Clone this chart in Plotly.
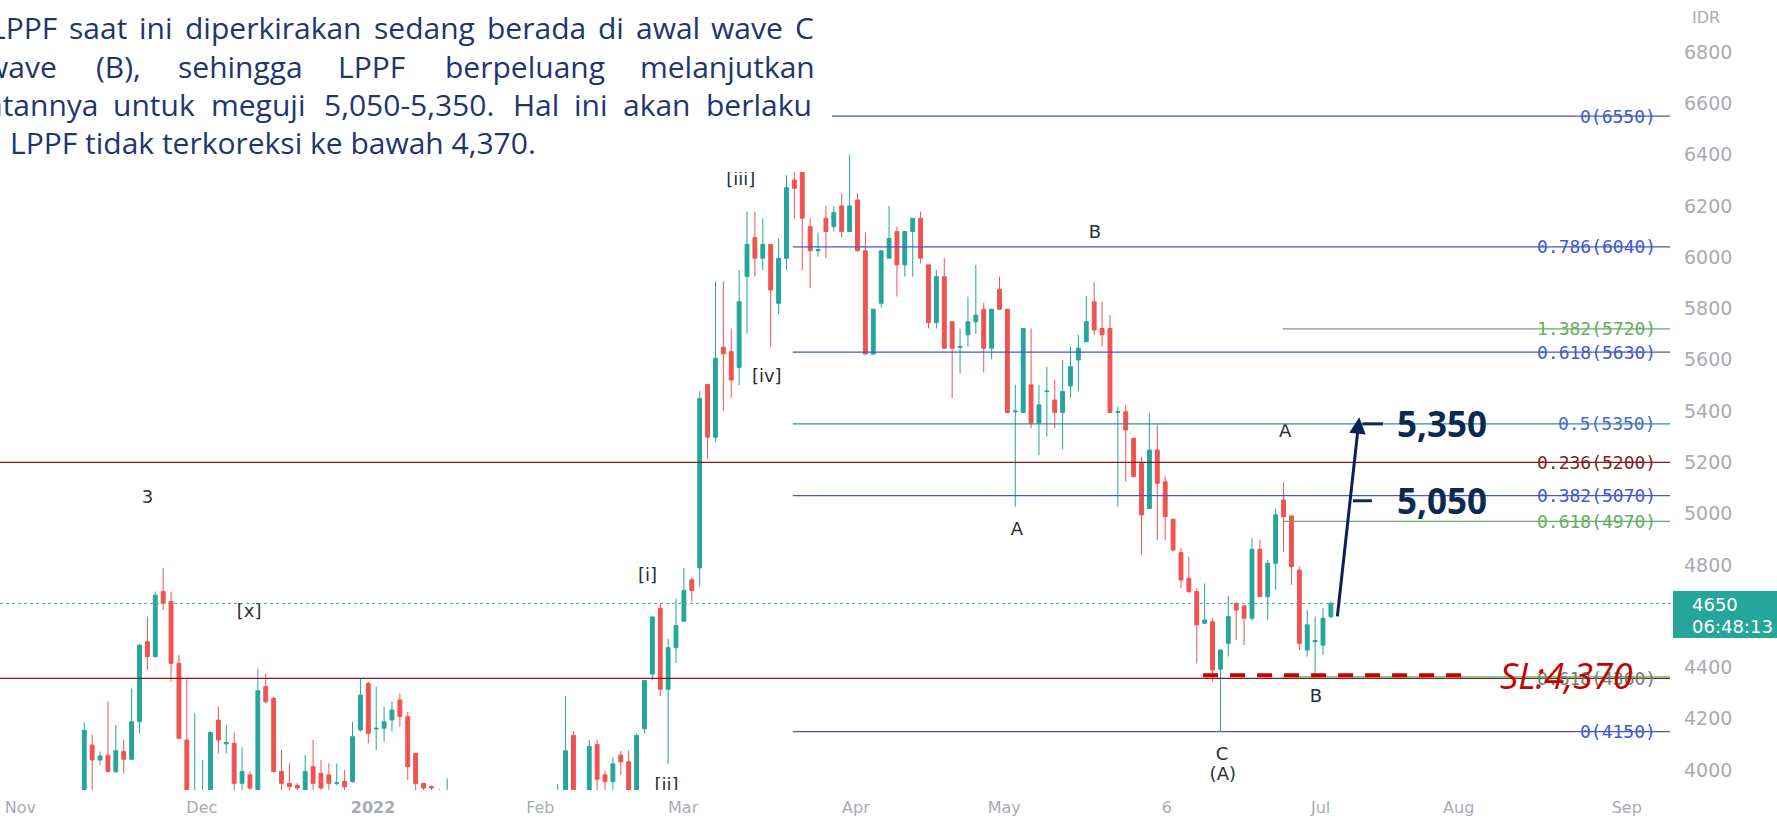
import plotly.graph_objects as go

# ---------------- data ----------------
opens = [3900, 4097, 4039, 4058, 3994, 4072, 4042, 4188, 4500, 4442,
         4696, 4657, 4416, 4117, 3880, 3860, 3900, 4195, 4102, 4104,
         3948, 3981, 3920, 4325, 4279, 3994, 3948, 3940, 3920, 4013,
         3987, 3981, 3948, 3955, 3955, 4156, 4338, 4160, 4163, 4195,
         4273, 4208, 4065, 3948, 3935, 3900, 3880, 3900, 3860, 3840,
         3810, 3800, 3780, 3770, 3750, 3760, 3790, 3800, 3840, 3860,
         3880, 3900, 4135, 3880, 3900, 4100, 3981, 3955, 4058, 4032,
         3920, 4161, 4374, 4631, 4315, 4477, 4580, 4742, 4788, 5504,
         5298, 5649, 5632, 5570, 5924, 6076, 5996, 6050, 5820, 5996,
         6301, 6420, 6119, 6025, 6152, 6119, 6200, 6100, 6223, 6025,
         5622, 5820, 5996, 6100, 5970, 6100, 6152, 5970, 5745, 5924,
         5748, 5648, 5697, 5748, 5797, 5645, 5875, 5797, 5397, 5394,
         5502, 5352, 5476, 5443, 5394, 5498, 5599, 5670, 5826, 5722,
         5722, 5394, 5397, 5294, 5196, 5020, 5248, 5124, 4978, 4848,
         4747, 4696, 4572, 4578, 4393, 4494, 4650, 4640, 4592, 4861,
         4676, 4806, 5053, 4991, 4780, 4468, 4500, 4487, 4598]
highs = [4185, 4137, 4072, 4267, 4176, 4117, 4318, 4490, 4598, 4696,
         4787, 4696, 4448, 4357, 4221, 4039, 4150, 4247, 4176, 4146,
         4088, 3994, 4396, 4377, 4286, 4078, 4026, 3950, 4058, 4117,
         4039, 4026, 4026, 4000, 4188, 4357, 4344, 4325, 4247, 4267,
         4299, 4227, 4065, 3950, 3940, 3925, 3967, 3915, 3900, 3880,
         3850, 3840, 3820, 3800, 3790, 3800, 3830, 3860, 3880, 3900,
         3945, 4289, 4152, 3910, 4118, 4118, 3998, 4050, 4075, 4075,
         4143, 4349, 4597, 4648, 4511, 4669, 4788, 4751, 5478, 5504,
         5906, 5906, 5720, 5950, 6178, 6178, 6152, 6050, 6073, 6320,
         6550, 6460, 6152, 6096, 6200, 6200, 6249, 6398, 6249, 6096,
         5797, 6025, 6200, 6119, 6100, 6152, 6178, 5970, 5950, 5996,
         5748, 5722, 5846, 5970, 5822, 5797, 5924, 5797, 5502, 5722,
         5722, 5502, 5573, 5521, 5599, 5651, 5697, 5849, 5904, 5826,
         5774, 5417, 5424, 5294, 5222, 5394, 5349, 5144, 4978, 4865,
         4832, 4709, 4728, 4592, 4468, 4679, 4653, 4640, 4904, 4897,
         4819, 5020, 5121, 4991, 4793, 4624, 4598, 4631, 4657]
lows = [3880, 3900, 4020, 3990, 3987, 3987, 4040, 4143, 4390, 4440,
        4624, 4345, 4120, 3880, 3850, 3840, 3880, 4065, 4065, 3900,
        3920, 3900, 3890, 4260, 3990, 3920, 3920, 3900, 3900, 3920,
        3900, 3920, 3940, 3920, 3950, 4150, 4104, 4078, 4110, 4150,
        4169, 3961, 3920, 3900, 3900, 3860, 3850, 3840, 3820, 3790,
        3770, 3760, 3740, 3720, 3720, 3740, 3760, 3780, 3800, 3830,
        3860, 3880, 3880, 3820, 3880, 3900, 3900, 3900, 3981, 3880,
        3900, 4143, 4349, 4289, 4024, 4417, 4580, 4657, 4716, 5213,
        5281, 5401, 5452, 5501, 5703, 5924, 5950, 5651, 5778, 5950,
        6151, 5950, 5879, 6002, 5996, 6100, 6077, 6100, 6025, 5622,
        5622, 5804, 5996, 5846, 5924, 5924, 5976, 5722, 5722, 5645,
        5450, 5547, 5651, 5700, 5550, 5602, 5797, 5394, 5027, 5394,
        5332, 5228, 5300, 5332, 5251, 5450, 5476, 5670, 5697, 5651,
        5394, 5027, 5124, 5144, 4839, 5020, 4897, 4897, 4852, 4708,
        4689, 4416, 4572, 4345, 4150, 4442, 4507, 4487, 4582, 4676,
        4585, 4702, 4852, 4722, 4468, 4442, 4370, 4448, 4592]
closes = [4155, 4039, 4055, 3994, 4075, 4042, 4188, 4487, 4442, 4682,
          4650, 4416, 4124, 3920, 3920, 3910, 4146, 4117, 4107, 3948,
          3994, 3930, 4309, 4266, 3994, 3948, 3935, 3930, 3994, 3948,
          3930, 3948, 3950, 3935, 4130, 4292, 4143, 4163, 4188, 4234,
          4208, 4013, 3948, 3930, 3930, 3880, 3900, 3860, 3840, 3810,
          3800, 3780, 3770, 3750, 3760, 3790, 3800, 3840, 3860, 3880,
          3900, 4075, 3900, 3860, 4092, 3964, 3955, 4024, 4032, 3920,
          4135, 4349, 4597, 4315, 4477, 4563, 4700, 4700, 5449, 5298,
          5606, 5623, 5521, 5826, 6050, 5996, 6050, 5872, 5996, 6271,
          6269, 6152, 6025, 6030, 6100, 6174, 6100, 6200, 6025, 5622,
          5797, 6025, 6073, 5970, 6100, 6152, 5996, 5745, 5924, 5645,
          5645, 5652, 5748, 5774, 5645, 5797, 5797, 5394, 5400, 5722,
          5352, 5424, 5478, 5394, 5476, 5573, 5645, 5749, 5716, 5697,
          5394, 5397, 5326, 5144, 4995, 5248, 5118, 4988, 4858, 4741,
          4696, 4566, 4585, 4390, 4468, 4598, 4624, 4592, 4861, 4676,
          4806, 4995, 4988, 4793, 4494, 4566, 4505, 4592, 4650]
bar_index = list(range(len(opens)))

month_pos = [-8.1, 14.9, 36.6, 57.8, 75.9, 97.8, 116.6, 137.2, 156.7, 174.2, 195.5]
month_labels = ["Nov", "Dec", "<b>2022</b>", "Feb", "Mar", "Apr", "May", "6", "Jul", "Aug", "Sep"]
price_ticks = [4000, 4200, 4400, 4800, 5000, 5200, 5400, 5600, 5800, 6000, 6200, 6400, 6600, 6800]

# Fibonacci levels
fib_blue_levels = [6550, 6040, 5630, 5350, 5070, 4150]
fib_blue_labels = ["0(6550)", "0.786(6040)", "0.618(5630)", "0.5(5350)", "0.382(5070)", "0(4150)"]
fib_blue_start = 89.8
fib_green_levels = [5720, 4970, 4363]
fib_green_labels = ["1.382(5720)", "0.618(4970)", ""]
fib_green_start = 151.9
fib_red_levels = [5200, 4357]
fib_red_labels = ["0.236(5200)", "0.618(4360)"]

targets = [5350, 5050]
target_labels = ["5,350", "5,050"]
stop_loss = 4370
last_price = closes[-1]

wave_text = ["3", "[x]", "[i]", "[ii]", "[iii]", "[iv]", "A", "B", "A", "C", "(A)", "B"]
wave_x = [8.0, 20.9, 71.4, 73.8, 83.2, 86.5, 118.2, 128.1, 152.2, 144.2, 144.3, 156.1]
wave_y = [5057, 4616, 4753, 3935, 6300, 5532, 4936, 6094, 5318, 4058, 3980, 4281]

para_line1 = "LPPF saat ini diperkirakan sedang berada di awal wave C"
para_line2 = ["wave", "(B),", "sehingga", "LPPF", "berpeluang", "melanjutkan"]
para_line3 = "atannya untuk meguji 5,050-5,350. Hal ini akan berlaku"
para_line4 = "LPPF tidak terkoreksi ke bawah 4,370."

# ---------------- figure ----------------
W, H = 1777, 819
ML, MR, MT, MB = 0, 107, 0, 29
PW, PH = W - ML - MR, H - MT - MB
XR = [-10.68, 200.98]
YR = [3922, 7003]


def px(X):
    return X / PW


def py(Y):
    return 1 - Y / PH


# approximate Open Sans advance widths (em), used to justify lines
CW = {'a': .556, 'b': .613, 'c': .48, 'd': .613, 'e': .561, 'f': .336, 'g': .547, 'h': .613,
      'i': .258, 'j': .258, 'k': .525, 'l': .258, 'm': .932, 'n': .613, 'o': .604, 'p': .613,
      'r': .408, 's': .479, 't': .352, 'u': .613, 'v': .5, 'w': .774, 'y': .5,
      'A': .633, 'B': .647, 'C': .631, 'F': .522, 'H': .753, 'L': .522, 'P': .603,
      ',': .246, '.': .267, '-': .322, '(': .296, ')': .296}


def wwidth(word, size):
    return sum(CW.get(ch, .6) for ch in word) * size


fig = go.Figure()
fig.add_trace(go.Candlestick(
    x=bar_index, open=opens, high=highs, low=lows, close=closes,
    increasing=dict(line=dict(color="#26a69a", width=1), fillcolor="#26a69a"),
    decreasing=dict(line=dict(color="#ef5350", width=1), fillcolor="#ef5350"),
    whiskerwidth=0, showlegend=False, hoverinfo="skip"))

fig.add_trace(go.Scatter(
    x=wave_x, y=wave_y, text=wave_text, mode="text",
    textfont=dict(family="DejaVu Sans", size=18, color="#2a2e39"),
    cliponaxis=True, showlegend=False, hoverinfo="skip"))

shapes = []
annotations = []
BLUE = "#4258cc"
GREEN = "#62ad62"
DRED = "#7e1f1f"
lab_font = "DejaVu Sans"

for lv in fib_red_levels:
    shapes.append(dict(type="line", xref="paper", yref="y", x0=0, x1=1, y0=lv, y1=lv,
                       line=dict(color=DRED, width=1.3), layer="above"))
for lv in fib_green_levels:
    shapes.append(dict(type="line", xref="x", yref="y", x0=fib_green_start, x1=XR[1], y0=lv, y1=lv,
                       line=dict(color=GREEN, width=1.3), layer="above"))
for lv in fib_blue_levels:
    col = "#2f8fa0" if lv == 5350 else BLUE
    shapes.append(dict(type="line", xref="x", yref="y", x0=fib_blue_start, x1=XR[1], y0=lv, y1=lv,
                       line=dict(color=col, width=1.3), layer="above"))

# current price dotted line
shapes.append(dict(type="line", xref="paper", yref="y", x0=0, x1=1.002, y0=last_price, y1=last_price,
                   line=dict(color="#4fa59c", width=1, dash="dot"), layer="above"))

# SL dashed line
shapes.append(dict(type="line", xref="x", yref="y", x0=141.8, x1=175.6, y0=stop_loss, y1=stop_loss,
                   line=dict(color="#cc0000", width=4, dash="15px,12px"), layer="above"))

# target tick dashes
shapes.append(dict(type="line", xref="x", yref="y", x0=162.0, x1=164.6, y0=targets[0], y1=targets[0],
                   line=dict(color="#0b2a52", width=3), layer="above"))
shapes.append(dict(type="line", xref="x", yref="y", x0=160.8, x1=163.2, y0=targets[1], y1=targets[1],
                   line=dict(color="#0b2a52", width=3), layer="above"))

# white text box covering top-left
shapes.append(dict(type="rect", xref="paper", yref="paper", x0=-0.01, x1=px(832), y0=py(172), y1=1.01,
                   fillcolor="white", line=dict(width=0), layer="above"))

# price box on axis
shapes.append(dict(type="rect", xref="paper", yref="paper", x0=px(1673), x1=px(1780), y0=py(638), y1=py(591),
                   fillcolor="#26a69a", line=dict(width=0), layer="above"))


def fib_label(text, lv, color):
    annotations.append(dict(xref="paper", yref="y", x=px(1658), y=lv, text=text, showarrow=False,
                            xanchor="right", yanchor="middle",
                            font=dict(family="DejaVu Sans Mono", size=18, color=color)))


for lv, lb in zip(fib_blue_levels, fib_blue_labels):
    fib_label(lb, lv, "#4a6ac8" if lv == 5350 else BLUE)
for lv, lb in zip(fib_green_levels, fib_green_labels):
    if lb:
        fib_label(lb, lv, GREEN)
fib_label(fib_red_labels[0], fib_red_levels[0], DRED)
fib_label(fib_red_labels[1], fib_red_levels[1], "#6e7f6e")

# targets text
for lv, lb in zip(targets, target_labels):
    annotations.append(dict(xref="x", yref="y", x=166.1, y=lv, text="<b>" + lb + "</b>", showarrow=False,
                            xanchor="left", yanchor="middle",
                            font=dict(family="Open Sans", size=35, color="#0b2a52")))

# SL text
annotations.append(dict(xref="x", yref="y", x=179.2, y=stop_loss, text="SL:4,370", showarrow=False,
                        xanchor="left", yanchor="middle",
                        font=dict(family="Open Sans", size=36, color="#c80000", style="italic")))

# arrow
annotations.append(dict(xref="x", yref="y", x=161.6, y=5376, ax=158.8, ay=4593, axref="x", ayref="y",
                        text="", showarrow=True, arrowhead=2, arrowsize=1.1, arrowwidth=3,
                        arrowcolor="#0a1f5c", standoff=0, startstandoff=0))

# paragraph text
TXT = "#1f3570"
FS = 30
PF = dict(family="Open Sans", size=FS, color=TXT)


def justified(text, x0, x1, yc):
    words = text.split(" ")
    widths = [wwidth(w, FS) for w in words]
    gap = (x1 - x0 - sum(widths)) / (len(words) - 1)
    cur = x0
    for w, wd in zip(words, widths):
        annotations.append(dict(xref="paper", yref="paper", x=px(cur + wd / 2), y=py(yc), xanchor="center",
                                yanchor="middle", text=w, showarrow=False, font=PF))
        cur += wd + gap


justified(para_line1, -10, 814, 28)
line2_cx = [21, 119, 240, 371, 525, 727]
for w, cx in zip(para_line2, line2_cx):
    annotations.append(dict(xref="paper", yref="paper", x=px(cx), y=py(66), xanchor="center",
                            yanchor="middle", text=w, showarrow=False, font=PF))
justified(para_line3, -14, 812, 104)
annotations.append(dict(xref="paper", yref="paper", x=px(8), y=py(143), xanchor="left", yanchor="middle",
                        text=para_line4, showarrow=False, font=PF))

# axis extras
annotations.append(dict(xref="paper", yref="paper", x=px(1690), y=py(17), xanchor="left", yanchor="middle",
                        text="IDR", showarrow=False, font=dict(family=lab_font, size=16, color="#a8abb3")))
annotations.append(dict(xref="paper", yref="paper", x=px(1690), y=py(604), xanchor="left", yanchor="middle",
                        text=str(last_price), showarrow=False, font=dict(family=lab_font, size=18, color="white")))
annotations.append(dict(xref="paper", yref="paper", x=px(1690), y=py(626), xanchor="left", yanchor="middle",
                        text="06:48:13", showarrow=False, font=dict(family=lab_font, size=18, color="white")))

fig.update_layout(
    width=W, height=H,
    margin=dict(l=ML, r=MR, t=MT, b=MB),
    paper_bgcolor="white", plot_bgcolor="white",
    shapes=shapes, annotations=annotations,
    showlegend=False,
    xaxis=dict(range=XR, tickmode="array", tickvals=month_pos, ticktext=month_labels,
               showgrid=False, zeroline=False, showline=False, ticks="",
               ticklabelstandoff=6,
               tickfont=dict(family=lab_font, size=16, color="#a8abb3"),
               rangeslider=dict(visible=False), fixedrange=True, automargin=False),
    yaxis=dict(range=YR, side="right", tickmode="array", tickvals=price_ticks,
               showgrid=False, zeroline=False, showline=False, ticks="",
               ticklabelstandoff=13, automargin=False,
               tickfont=dict(family=lab_font, size=19, color="#a8abb3"), fixedrange=True),
)

fig.write_html("out.html", config={"displayModeBar": False},
               post_script="document.body.style.margin='0px';")
